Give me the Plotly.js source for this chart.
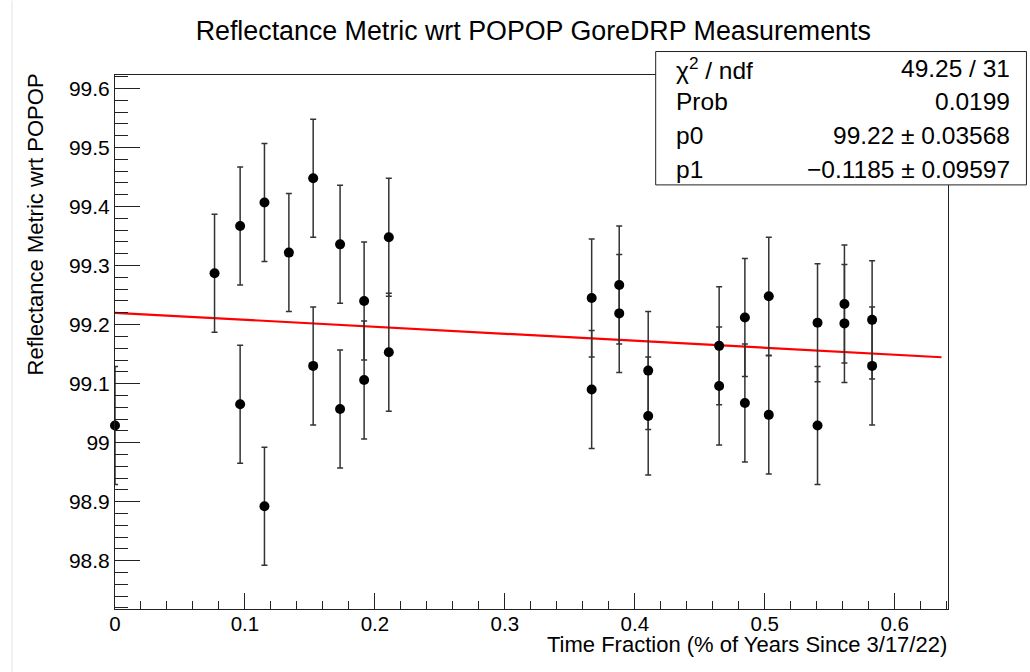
<!DOCTYPE html>
<html>
<head>
<meta charset="utf-8">
<script src="https://cdn.plot.ly/plotly-3.0.1.min.js"></script>
<style>
html,body{margin:0;padding:0;background:#fff;}
#chart{width:1030px;height:672px;}
</style>
</head>
<body>
<div id="chart"></div>
<script>
// ---- data ----
const timeFraction = [0, 0.0766, 0.0963, 0.0963, 0.115, 0.115, 0.1338, 0.1525, 0.1525, 0.1732, 0.1732,
  0.1917, 0.1917, 0.2107, 0.2107, 0.3668, 0.3668, 0.388, 0.388, 0.4103, 0.4103, 0.4649, 0.4649,
  0.4847, 0.4847, 0.5031, 0.5031, 0.5406, 0.5406, 0.5613, 0.5613, 0.5826, 0.5826];
const reflectance = [99.029, 99.287, 99.367, 99.065, 99.407, 98.892, 99.322, 99.448, 99.130, 99.336, 99.057,
  99.240, 99.106, 99.348, 99.153, 99.245, 99.090, 99.267, 99.219, 99.122, 99.045, 99.164, 99.096,
  99.212, 99.067, 99.248, 99.047, 99.203, 99.029, 99.235, 99.202, 99.208, 99.130];
const reflectanceErr = [0.1, 0.1, 0.1, 0.1, 0.1, 0.1, 0.1, 0.1, 0.1, 0.1, 0.1,
  0.1, 0.1, 0.1, 0.1, 0.1, 0.1, 0.1, 0.1, 0.1, 0.1, 0.1, 0.1,
  0.1, 0.1, 0.1, 0.1, 0.1, 0.1, 0.1, 0.1, 0.1, 0.1];
const fitP0 = 99.22;
const fitP1 = -0.1185;
const fitRange = [0, 0.636];
const statsLabels = ["\u03c7<sup>2</sup> / ndf", "Prob", "p0", "p1"];
const statsValues = ["49.25 / 31", "0.0199", "99.22 \u00b1 0.03568", "\u22120.1185 \u00b1 0.09597"];

// ---- layout geometry (pixels) ----
const W = 1030, H = 672;
const L = 115, R = 948.5, T = 74.5, B = 609;
const pw = R - L, ph = B - T;
const px = v => (v - L) / pw;          // pixel x -> paper
const py = v => (B - v) / ph;          // pixel y -> paper
const FONT = "Liberation Sans, Arial, Helvetica, sans-serif";

const fitX = fitRange.slice();
const fitY = fitX.map(x => fitP0 + fitP1 * x);

const traces = [
  {
    x: fitX, y: fitY, type: 'scatter', mode: 'lines',
    line: {color: '#ff0000', width: 2.2}, hoverinfo: 'skip', showlegend: false, cliponaxis: true
  },
  {
    x: timeFraction, y: reflectance, type: 'scatter', mode: 'markers',
    marker: {color: '#000', size: 10},
    error_y: {type: 'data', array: reflectanceErr, visible: true, color: '#333', thickness: 1.5, width: 3},
    showlegend: false, cliponaxis: false
  }
];

const annotations = [];
const rowY = [68, 101.5, 135.5, 169];
statsLabels.forEach((t, i) => {
  annotations.push({xref: 'paper', yref: 'paper', x: px(674), y: py(rowY[i]), xanchor: 'left', yanchor: 'middle',
    text: t, showarrow: false, font: {family: FONT, size: 24.5, color: '#000'}});
});
statsValues.forEach((t, i) => {
  annotations.push({xref: 'paper', yref: 'paper', x: px(1013), y: py(rowY[i]), xanchor: 'right', yanchor: 'middle',
    text: t, showarrow: false, font: {family: FONT, size: 24.5, color: '#000'}});
});
// y-axis title (ROOT style: aligned to the top end)
annotations.push({xref: 'paper', yref: 'paper', x: px(35), y: py(224), xanchor: 'center', yanchor: 'middle',
  text: 'Reflectance Metric wrt POPOP', textangle: -90, showarrow: false,
  font: {family: FONT, size: 22, color: '#000'}});
// x-axis title (ROOT style: right aligned)
annotations.push({xref: 'paper', yref: 'paper', x: px(950), y: py(645), xanchor: 'right', yanchor: 'middle',
  text: 'Time Fraction (% of Years Since 3/17/22)', showarrow: false,
  font: {family: FONT, size: 22, color: '#000'}});

const layout = {
  width: W, height: H,
  margin: {l: L, r: W - R, t: T, b: H - B, pad: 0},
  paper_bgcolor: '#fff', plot_bgcolor: '#fff',
  showlegend: false,
  title: {text: 'Reflectance Metric wrt POPOP GoreDRP Measurements',
    font: {family: FONT, size: 26.8, color: '#000'},
    xref: 'paper', x: px(533.5), xanchor: 'center', yref: 'container', y: 1 - 31 / H, yanchor: 'middle'},
  xaxis: {
    range: [0, 0.641], showgrid: false, zeroline: false,
    showline: true, linecolor: '#222', linewidth: 1, mirror: true,
    ticks: 'inside', ticklen: 16, tickwidth: 1, tickcolor: '#222',
    dtick: 0.1, tick0: 0, ticklabelstandoff: -4,
    minor: {dtick: 0.02, ticks: 'inside', ticklen: 8, tickcolor: '#222', tickwidth: 1, showgrid: false},
    tickfont: {family: FONT, size: 20.5, color: '#000'}
  },
  yaxis: {
    range: [98.718, 99.623], showgrid: false, zeroline: false,
    showline: true, linecolor: '#222', linewidth: 1, mirror: true,
    ticks: 'inside', ticklen: 25, tickwidth: 1, tickcolor: '#222',
    dtick: 0.1, tick0: 99,
    minor: {dtick: 0.02, ticks: 'inside', ticklen: 13, tickcolor: '#222', tickwidth: 1, showgrid: false},
    tickfont: {family: FONT, size: 21, color: '#000'}
  },
  shapes: [
    {type: 'rect', xref: 'paper', yref: 'paper', x0: px(656), x1: px(1027), y0: py(184.5), y1: py(51),
      line: {color: '#222', width: 1}, fillcolor: '#fff', layer: 'above'},
    {type: 'line', xref: 'paper', yref: 'paper', x0: px(12), x1: px(12), y0: py(0), y1: py(672),
      line: {color: '#e4e4e4', width: 1}, layer: 'below'}
  ],
  annotations: annotations
};

Plotly.newPlot('chart', traces, layout, {staticPlot: true, displayModeBar: false});
</script>
</body>
</html>
